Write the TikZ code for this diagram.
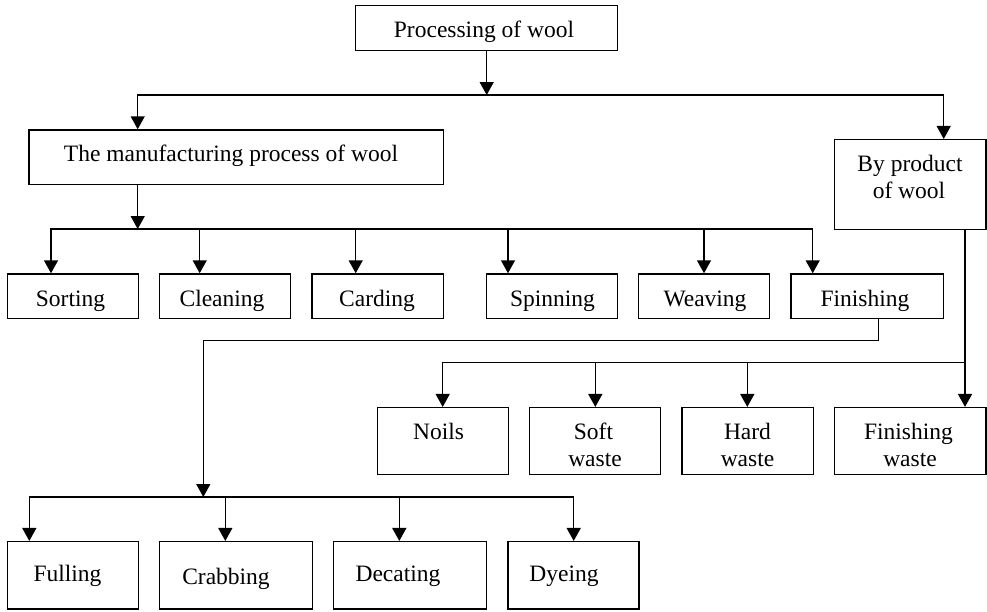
\documentclass[tikz,border=0pt]{standalone}
\usepackage{fontspec}
\setmainfont{Liberation Serif}
\usetikzlibrary{arrows.meta,fit}
\begin{document}
\begin{tikzpicture}[x=1pt,y=-1pt,
  box/.style={draw, line width=1.5pt, inner sep=0pt},
  lbl/.style={anchor=base, inner sep=0pt, font=\fontsize{23.5}{27}\selectfont},
  conn/.style={line width=1.5pt},
  arr/.style={conn, -{Triangle[width=14pt,length=13pt]}}]
\useasboundingbox (0,0) rectangle (987,611);
% boxes
\node[box, fit={(355.7,5.3) (617.3,50.3)}] (top) {};
\node[box, fit={(29,130) (443.3,184.3)}] (manuf) {};
\node[box, fit={(834.3,139.7) (986,229.3)}] (bypro) {};
\node[box, fit={(7.3,274) (138.3,318.7)}] (sorting) {};
\node[box, fit={(159.7,274) (290.7,318.7)}] (cleaning) {};
\node[box, fit={(312,274) (443.3,318.7)}] (carding) {};
\node[box, fit={(486.3,274) (617.3,318.7)}] (spinning) {};
\node[box, fit={(638.7,274) (769.3,318.7)}] (weaving) {};
\node[box, fit={(791,274) (943.7,318.7)}] (finishing) {};
\node[box, fit={(377.3,407.7) (508.3,474.7)}] (noils) {};
\node[box, fit={(529.7,407.7) (660.7,474.7)}] (soft) {};
\node[box, fit={(682,407.7) (813.3,474.7)}] (hard) {};
\node[box, fit={(834.3,407.7) (986,474.7)}] (fwaste) {};
\node[box, fit={(7.3,541.7) (138.3,609)}] (fulling) {};
\node[box, fit={(159.7,541.7) (312.7,609)}] (crabbing) {};
\node[box, fit={(333.7,541.7) (486.7,609)}] (decating) {};
\node[box, fit={(508,541.7) (639,609)}] (dyeing) {};
% labels
\node[lbl] (tTop) at (484,37.3) {Processing of wool};
\node[lbl] (tManuf) at (231,161.7) {The manufacturing process of wool};
\node[lbl] (tBy1) at (910,171.7) {By product};
\node[lbl] (tBy2) at (909,198.3) {of wool};
\node[lbl] (tSort) at (70.5,306) {Sorting};
\node[lbl] (tClean) at (222,306) {Cleaning};
\node[lbl] (tCard) at (377,306) {Carding};
\node[lbl] (tSpin) at (552.5,306) {Spinning};
\node[lbl] (tWeav) at (705,306) {Weaving};
\node[lbl] (tFin) at (865,306) {Finishing};
\node[lbl] (tNoils) at (438.5,439.3) {Noils};
\node[lbl] (tSoft1) at (593.5,439.3) {Soft};
\node[lbl] (tSoft2) at (595,466) {waste};
\node[lbl] (tHard1) at (747.5,439.3) {Hard};
\node[lbl] (tHard2) at (747.5,466) {waste};
\node[lbl] (tFw1) at (908.5,439.3) {Finishing};
\node[lbl] (tFw2) at (910,466) {waste};
\node[lbl] (tFull) at (67.5,581) {Fulling};
\node[lbl] (tCrab) at (226,584.3) {Crabbing};
\node[lbl] (tDec) at (398,581) {Decating};
\node[lbl] (tDye) at (564,581) {Dyeing};
% level 1
\coordinate (j0) at (486.7,95);
\coordinate (jL) at (137.7,95);
\coordinate (jR) at (943.7,95);
\draw[arr] (top.south -| j0) -- (j0);
\draw[arr] (jR) -- (jL) -- (manuf.north -| jL);
\draw[arr] (jL) -- (jR) -- (bypro.north -| jR);
% manufacturing children
\coordinate (j1) at (137.7,229);
\coordinate (b1) at (51,229);
\coordinate (b2) at (199.7,229);
\coordinate (b3) at (355.7,229);
\coordinate (b4) at (508,229);
\coordinate (b5) at (704,229);
\coordinate (b6) at (812.7,229);
\draw[arr] (manuf.south -| j1) -- (j1);
\draw[arr] (b6) -- (b1) -- (sorting.north -| b1);
\draw[arr] (b1) -- (b6) -- (finishing.north -| b6);
\draw[arr] (b2) -- (cleaning.north -| b2);
\draw[arr] (b3) -- (carding.north -| b3);
\draw[arr] (b4) -- (spinning.north -| b4);
\draw[arr] (b5) -- (weaving.north -| b5);
% finishing children
\coordinate (f1) at (878.3,340.7);
\coordinate (f2) at (203.3,340.7);
\coordinate (f3) at (203.3,497);
\draw[arr] (finishing.south -| f1) -- (f1) -- (f2) -- (f3);
\coordinate (c1) at (29.3,497);
\coordinate (c2) at (225.3,497);
\coordinate (c3) at (399.3,497);
\coordinate (c4) at (573.7,497);
\draw[arr] (c4) -- (c1) -- (fulling.north -| c1);
\draw[arr] (c1) -- (c4) -- (dyeing.north -| c4);
\draw[arr] (c2) -- (crabbing.north -| c2);
\draw[arr] (c3) -- (decating.north -| c3);
% by-product children
\coordinate (p0) at (965,362.7);
\coordinate (p1) at (442.7,362.7);
\coordinate (p2) at (595.3,362.7);
\coordinate (p3) at (747.3,362.7);
\draw[arr] (bypro.south -| p0) -- (fwaste.north -| p0);
\draw[arr] (p0) -- (p1) -- (noils.north -| p1);
\draw[arr] (p2) -- (soft.north -| p2);
\draw[arr] (p3) -- (hard.north -| p3);
\end{tikzpicture}
\end{document}
